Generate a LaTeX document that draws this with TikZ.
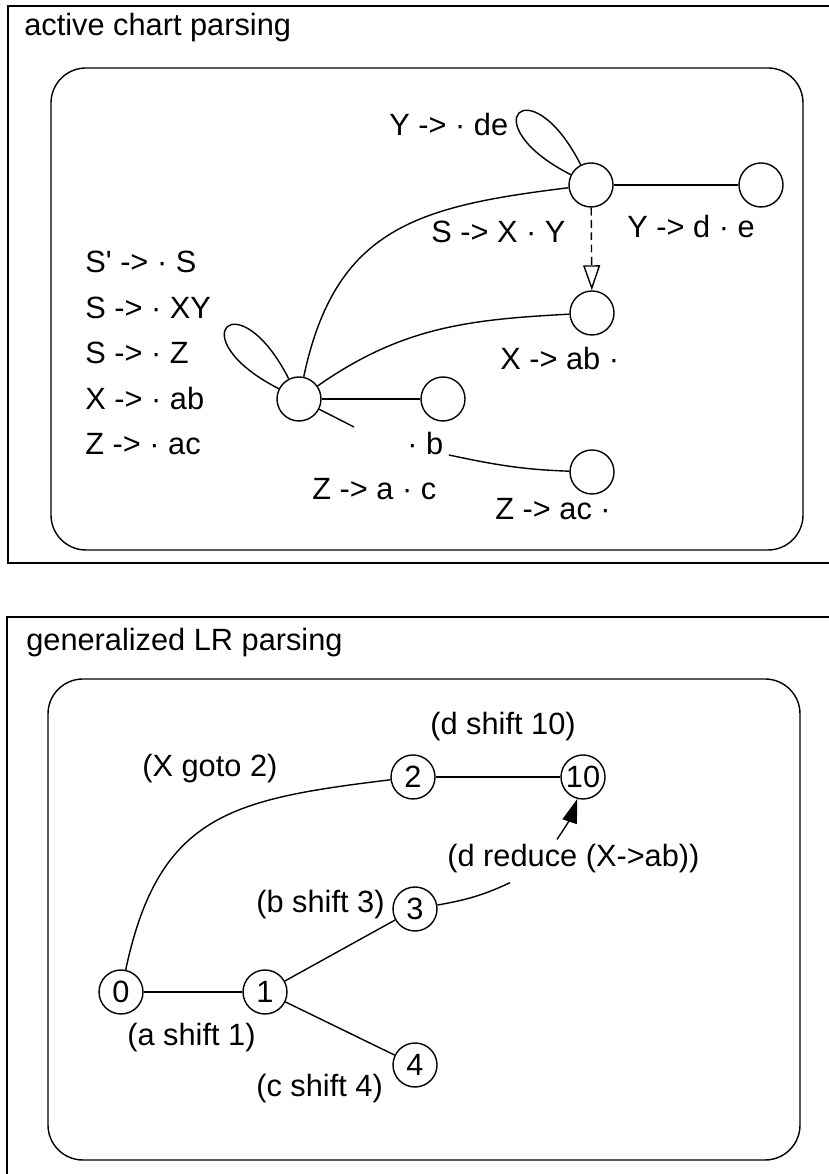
\documentclass[tikz,border=0pt]{standalone}
\usepackage{fontspec}
\setmainfont{Liberation Sans}
\usepackage{tikz}
\usetikzlibrary{arrows.meta,calc}
\newcommand{\chartfont}{\fontsize{17.5}{21}\selectfont}
\tikzset{
  edge/.style={line width=0.8pt, draw=black},
  frame/.style={line width=0.6pt, draw=black},
  panel/.style={line width=0.8pt, draw=black, rounded corners=0.7cm},
  state/.style={circle, draw=black, line width=0.8pt, minimum size=0.88cm,
    inner sep=0pt, font=\chartfont},
  item/.style={anchor=base west, inner sep=0pt, font=\chartfont},
  loop shape/.style={out=153, in=117, distance=2.25cm},
  predict/.style={edge, dash pattern=on 4.5pt off 2.5pt,
    -{Triangle[open, length=5mm, width=3.4mm]}},
  reduce arrow/.style={edge, -{Triangle[length=4.8mm, width=3mm]}}
}

\begin{document}
\begin{tikzpicture}
  \useasboundingbox (0,0) rectangle (16.58,23.48);

  \draw[frame] (17,23.36) -| (0.16,12.22) -- (17,12.22);
  \draw[panel] (1.02,12.48) rectangle (16.06,22.12);
  \node[item] (title1) at (0.48,22.76) {active chart parsing};

  \node[state] (q0) at (5.98,15.50) {};
  \node[state] (qa) at (8.86,15.50) {};
  \node[state] (qx) at (11.82,19.78) {};
  \node[state] (qxd) at (15.22,19.78) {};
  \node[state] (qab) at (11.84,17.22) {};
  \node[state] (qac) at (11.84,14.04) {};
  \coordinate (qstub) at (7.08,14.94);

  \foreach \txt [count=\i] in {S\textquotesingle{} -> · S, S -> · XY, S -> · Z, X -> · ab, Z -> · ac}
    \node[item] (ax\i) at (1.70,{18.93-0.91*\i}) {\txt};
  \node[item] (lyde) at (7.78,20.76) {Y -> · de};
  \node[item] (lsxy) at (8.62,18.62) {S -> X · Y};
  \node[item] (lyde2) at (12.54,18.72) {Y -> d · e};
  \node[item] (lxab) at (10.00,16.08) {X -> ab ·};
  \node[item] (ldotb) at (8.14,14.38) {· b};
  \node[item] (lzac) at (6.24,13.48) {Z -> a · c};
  \node[item] (lzacd) at (9.90,13.08) {Z -> ac ·};

  \draw[edge] (q0) to[out=78, in=187, looseness=1.2] (qx);
  \draw[edge] (q0) to[out=35, in=183] (qab);
  \draw[edge] (q0) -- (qa);
  \draw[edge] (q0) -- (qstub);
  \draw[edge] (q0) to[loop shape] (q0);
  \draw[edge] (qx) to[loop shape] (qx);
  \draw[edge] (qx) -- (qxd);
  \draw[predict] (qx) -- (qab);
  \draw[edge] ([xshift=3pt]ldotb.base east) to[out=-12, in=178] (qac);

  \draw[frame] (17,11.14) -| (0.14,-0.5);
  \draw[panel] (0.96,0.28) rectangle (16.00,9.90);
  \node[item] (title2) at (0.52,10.46) {generalized LR parsing};

  \node[state] (s0) at (2.42,3.64) {0};
  \node[state] (s1) at (5.30,3.64) {1};
  \node[state] (s2) at (8.26,7.94) {2};
  \node[state] (s10) at (11.66,7.94) {10};
  \node[state] (s3) at (8.30,5.30) {3};
  \node[state] (s4) at (8.30,2.18) {4};

  \node[item] (ld10) at (8.60,8.78) {(d shift 10)};
  \node[item] (lx2) at (2.84,7.94) {(X goto 2)};
  \node[item] (lred) at (8.94,6.14) {(d reduce (X->ab))};
  \node[item] (lb3) at (5.12,5.22) {(b shift 3)};
  \node[item] (la1) at (2.54,2.56) {(a shift 1)};
  \node[item] (lc4) at (5.12,1.54) {(c shift 4)};

  \draw[edge] (s0) to[out=78, in=187, looseness=1.25] (s2);
  \draw[edge] (s2) -- (s10);
  \draw[edge] (s0) -- (s1);
  \draw[edge] (s1) -- (s3);
  \draw[edge] (s1) -- (s4);
  \draw[edge] (s3) to[out=10, in=205] ([xshift=1.26cm, yshift=-0.18cm]lred.south west);
  \draw[reduce arrow] ([xshift=2.2cm, yshift=0.1cm]lred.north west) to[bend right=8] (s10);
\end{tikzpicture}
\end{document}
